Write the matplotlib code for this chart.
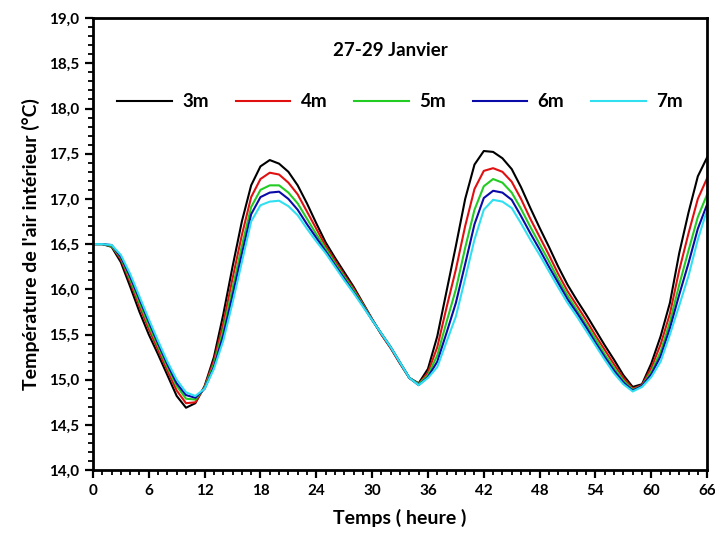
import matplotlib
matplotlib.use("Agg")
import matplotlib.pyplot as plt
from matplotlib.ticker import MultipleLocator, FuncFormatter

plt.rcParams['font.family'] = ['Lato', 'DejaVu Sans']
plt.rcParams['font.weight'] = 'bold'

hours = list(range(0, 67))

t_3m = [16.50, 16.50, 16.47, 16.30, 16.03, 15.75, 15.50, 15.28, 15.05, 14.82,
        14.69, 14.74, 14.93, 15.25, 15.72, 16.25, 16.75, 17.15, 17.36, 17.43,
        17.39, 17.30, 17.15, 16.95, 16.73, 16.52, 16.35, 16.19, 16.03, 15.85,
        15.67, 15.50, 15.35, 15.18, 15.02, 14.96, 15.12, 15.48, 15.98, 16.48,
        17.00, 17.38, 17.53, 17.52, 17.45, 17.33, 17.13, 16.90, 16.68, 16.47,
        16.25, 16.05, 15.88, 15.72, 15.55, 15.38, 15.22, 15.05, 14.92, 14.95,
        15.18, 15.48, 15.85, 16.40, 16.85, 17.25, 17.46]
t_4m = [16.50, 16.50, 16.48, 16.33, 16.08, 15.81, 15.56, 15.33, 15.10, 14.88,
        14.74, 14.75, 14.92, 15.21, 15.62, 16.12, 16.60, 17.02, 17.22, 17.29,
        17.27, 17.18, 17.05, 16.86, 16.67, 16.48, 16.32, 16.16, 16.01, 15.84,
        15.67, 15.50, 15.35, 15.18, 15.02, 14.95, 15.08, 15.36, 15.80, 16.22,
        16.70, 17.11, 17.31, 17.34, 17.30, 17.19, 17.00, 16.78, 16.58, 16.38,
        16.17, 15.98, 15.82, 15.66, 15.49, 15.33, 15.17, 15.02, 14.90, 14.94,
        15.13, 15.39, 15.73, 16.21, 16.62, 17.00, 17.23]
t_5m = [16.50, 16.50, 16.48, 16.35, 16.11, 15.85, 15.60, 15.37, 15.14, 14.93,
        14.79, 14.78, 14.91, 15.17, 15.55, 16.01, 16.48, 16.91, 17.10, 17.15,
        17.15, 17.07, 16.95, 16.78, 16.61, 16.45, 16.29, 16.14, 15.99, 15.83,
        15.66, 15.51, 15.36, 15.19, 15.02, 14.95, 15.05, 15.27, 15.64, 16.00,
        16.46, 16.88, 17.14, 17.22, 17.18, 17.07, 16.89, 16.69, 16.50, 16.31,
        16.11, 15.93, 15.77, 15.61, 15.45, 15.28, 15.13, 14.99, 14.89, 14.93,
        15.09, 15.31, 15.64, 16.05, 16.43, 16.80, 17.05]
t_6m = [16.50, 16.50, 16.49, 16.36, 16.14, 15.89, 15.64, 15.40, 15.17, 14.96,
        14.83, 14.80, 14.90, 15.14, 15.49, 15.93, 16.39, 16.83, 17.02, 17.07,
        17.08, 17.00, 16.88, 16.72, 16.57, 16.42, 16.27, 16.12, 15.97, 15.82,
        15.66, 15.51, 15.36, 15.19, 15.02, 14.94, 15.03, 15.20, 15.52, 15.85,
        16.28, 16.72, 17.01, 17.09, 17.07, 16.99, 16.81, 16.62, 16.44, 16.25,
        16.07, 15.89, 15.74, 15.58, 15.41, 15.25, 15.10, 14.97, 14.88, 14.93,
        15.06, 15.26, 15.57, 15.94, 16.29, 16.67, 16.94]
t_7m = [16.50, 16.50, 16.49, 16.38, 16.17, 15.92, 15.67, 15.43, 15.20, 15.00,
        14.86, 14.82, 14.90, 15.12, 15.43, 15.85, 16.30, 16.75, 16.93, 16.97,
        16.98, 16.92, 16.82, 16.67, 16.53, 16.40, 16.25, 16.10, 15.96, 15.81,
        15.66, 15.51, 15.36, 15.19, 15.02, 14.94, 15.02, 15.14, 15.42, 15.70,
        16.12, 16.55, 16.88, 16.99, 16.97, 16.90, 16.73, 16.55, 16.38, 16.20,
        16.02, 15.85, 15.70, 15.54, 15.38, 15.22, 15.07, 14.95, 14.87, 14.92,
        15.03, 15.20, 15.50, 15.82, 16.15, 16.55, 16.88]

labels = ['3m', '4m', '5m', '6m', '7m']
colors = ['#000000', '#e01010', '#22cc22', '#0a0aa8', '#30e0f0']

fig = plt.figure(figsize=(7.15, 5.33), dpi=100)
ax = fig.add_axes([0.130, 0.118, 0.859, 0.848])

for series, lab, col in zip([t_3m, t_4m, t_5m, t_6m, t_7m], labels, colors):
    ax.plot(hours, series, color=col, lw=1.5, label=lab)

ax.set_xlim(0, 66)
ax.set_ylim(14.0, 19.0)
ax.xaxis.set_major_locator(MultipleLocator(6))
ax.xaxis.set_minor_locator(MultipleLocator(1))
ax.yaxis.set_major_locator(MultipleLocator(0.5))
ax.yaxis.set_minor_locator(MultipleLocator(0.1))
ax.yaxis.set_major_formatter(FuncFormatter(lambda v, p: f"{v:.1f}".replace('.', ',')))
ax.xaxis.set_major_formatter(FuncFormatter(lambda v, p: f"{v:.0f}"))

for s in ax.spines.values():
    s.set_linewidth(2)
ax.tick_params(which='major', direction='out', length=6, width=1.6, labelsize=11, pad=4)
ax.tick_params(which='minor', direction='out', length=3.5, width=1.3)
for lbl in ax.get_xticklabels() + ax.get_yticklabels():
    lbl.set_fontweight('bold')

ax.set_xlabel('Temps ( heure )', fontsize=14, fontweight='bold', labelpad=8)
ax.set_ylabel("Température de l'air intérieur (°C)", fontsize=14, fontweight='bold', labelpad=6)

ax.text(0.485, 0.928, '27-29 Janvier', transform=ax.transAxes, ha='center', va='center',
        fontsize=13.5, fontweight='bold')
ax.legend(loc='center', bbox_to_anchor=(0.50, 0.815), ncol=5, frameon=False,
          prop={'size': 13.5, 'weight': 'bold'}, handlelength=2.9, handletextpad=0.55,
          columnspacing=1.45)

fig.savefig('out.png', dpi=100)
